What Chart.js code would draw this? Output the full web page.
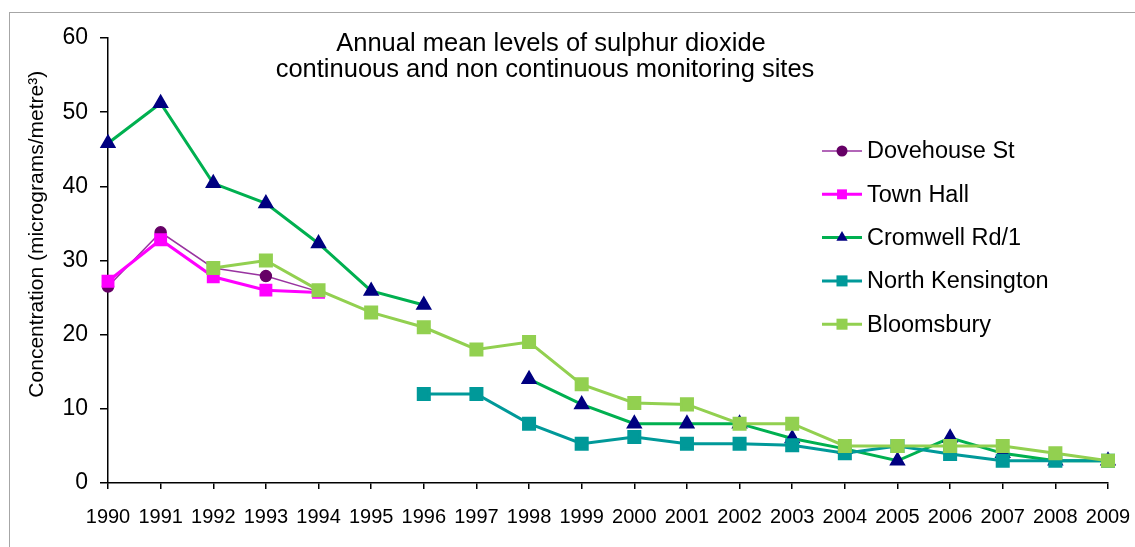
<!DOCTYPE html>
<html>
<head>
<meta charset="utf-8">
<script src="https://cdn.jsdelivr.net/npm/chart.js@4.4.1/dist/chart.umd.min.js"></script>
<style>
  body { margin: 0; background: #fff; }
  #wrap { position: relative; width: 1135px; height: 547px; overflow: hidden; }
  #frame { position: absolute; left: 9px; top: 12px; width: 1200px; height: 600px;
           border-left: 1px solid #a6a6a6; border-top: 1px solid #a6a6a6; pointer-events: none; }
</style>
</head>
<body>
<div id="wrap">
  <canvas id="myChart" width="1135" height="547"></canvas>
  <div id="frame"></div>
</div>
<script>
const years = ["1990", "1991", "1992", "1993", "1994", "1995", "1996", "1997", "1998", "1999",
               "2000", "2001", "2002", "2003", "2004", "2005", "2006", "2007", "2008", "2009"];
const dovehouse = [26.5, 33.8, 29.0, 27.9, 25.8, null, null, null, null, null,
                   null, null, null, null, null, null, null, null, null, null];
const townHall = [27.2, 32.8, 27.8, 26.0, 25.7, null, null, null, null, null,
                  null, null, null, null, null, null, null, null, null, null];
const cromwell = [45.8, 51.2, 40.4, 37.7, 32.3, 25.9, 24.0, null, 14.0, 10.6,
                  8.0, 8.0, 8.0, 6.0, 4.6, 3.0, 6.1, 4.0, 3.0, 3.0];
const northKensington = [null, null, null, null, null, null, 12.0, 12.0, 8.0, 5.3,
                         6.2, 5.3, 5.3, 5.1, 4.0, 5.0, 3.9, 3.0, 3.0, 3.0];
const bloomsbury = [null, null, 29.0, 30.0, 26.0, 23.0, 21.0, 18.0, 19.0, 13.3,
                    10.8, 10.6, 8.0, 8.0, 5.0, 5.0, 5.0, 5.0, 4.0, 3.0];
const yTicks = [0, 10, 20, 30, 40, 50, 60];

const FONT = "'Liberation Sans', Arial, sans-serif";

function drawMarker(ctx, style, r, x, y, fill) {
    ctx.fillStyle = fill;
    ctx.beginPath();
    if (style === 'circle') {
        ctx.arc(x, y, r, 0, Math.PI * 2);
    } else if (style === 'rect') {
        const s = r * Math.SQRT1_2;
        ctx.rect(x - s, y - s, 2 * s, 2 * s);
    } else if (style === 'triangle') {
        const w = r * Math.sqrt(3) / 2;
        ctx.moveTo(x, y - r);
        ctx.lineTo(x + w, y + r / 2);
        ctx.lineTo(x - w, y + r / 2);
        ctx.closePath();
    }
    ctx.fill();
}

// title and legend sit inside the plot area, so draw them by hand
const overlay = {
    id: 'overlay',
    afterDraw(chart) {
        const ctx = chart.ctx;
        ctx.save();
        ctx.fillStyle = '#000';
        ctx.font = `25.5px ${FONT}`;
        ctx.textAlign = 'center';
        ctx.textBaseline = 'alphabetic';
        ctx.fillText('Annual mean levels of sulphur dioxide', 551, 51);
        ctx.fillText('continuous and non continuous monitoring sites', 545, 77);

        chart.data.datasets.forEach((ds, i) => {
            const y = 151 + i * 43.3;
            ctx.strokeStyle = ds.borderColor;
            ctx.lineWidth = ds.borderWidth;
            ctx.beginPath();
            ctx.moveTo(822, y);
            ctx.lineTo(862, y);
            ctx.stroke();
            drawMarker(ctx, ds.pointStyle, ds.pointRadius, 842, y, ds.pointBackgroundColor);
            ctx.fillStyle = '#000';
            ctx.font = `23.5px ${FONT}`;
            ctx.textAlign = 'left';
            ctx.textBaseline = 'middle';
            ctx.fillText(ds.label, 867, y + 1);
        });
        ctx.restore();
    }
};

new Chart("myChart", {
    type: "line",
    data: {
        labels: years,
        datasets: [
            { label: "Dovehouse St", data: dovehouse, borderColor: "#9933A0", borderWidth: 1.5,
              pointStyle: "circle", pointRadius: 5.5, pointBackgroundColor: "#660066",
              pointBorderColor: "#660066", order: 4 },
            { label: "Town Hall", data: townHall, borderColor: "#FF00FF", borderWidth: 3,
              pointStyle: "rect", pointRadius: 7, pointBackgroundColor: "#FF00FF",
              pointBorderColor: "#FF00FF", order: 3 },
            { label: "Cromwell Rd/1", data: cromwell, borderColor: "#00B050", borderWidth: 3,
              pointStyle: "triangle", pointRadius: 6.5, pointBackgroundColor: "#000080",
              pointBorderColor: "#000080", order: 2 },
            { label: "North Kensington", data: northKensington, borderColor: "#009999", borderWidth: 3,
              pointStyle: "rect", pointRadius: 7.8, pointBackgroundColor: "#009999",
              pointBorderColor: "#009999", order: 1 },
            { label: "Bloomsbury", data: bloomsbury, borderColor: "#92D050", borderWidth: 3,
              pointStyle: "rect", pointRadius: 7.8, pointBackgroundColor: "#92D050",
              pointBorderColor: "#92D050", order: 0 },
        ],
    },
    options: {
        responsive: false,
        animation: false,
        spanGaps: false,
        layout: { padding: { top: 38, right: 0, bottom: 0, left: 0 } },
        plugins: {
            legend: { display: false },
            title: { display: false },
            tooltip: { enabled: false },
        },
        elements: {
            line: { tension: 0 },
            point: { borderWidth: 0 },
        },
        scales: {
            x: {
                offset: false,
                afterFit: s => { s.height = 64; s.paddingLeft = 0; s.paddingRight = 27; },
                grid: { drawOnChartArea: false, offset: false, tickLength: 6, color: "#000", lineWidth: 1.5 },
                border: { color: "#000", width: 1.5 },
                ticks: { color: "#000", font: { family: FONT, size: 20 }, padding: 16, maxRotation: 0, autoSkip: false },
            },
            y: {
                min: 0,
                max: 60,
                afterFit: s => { s.width = 108; },
                afterBuildTicks: s => { s.ticks = yTicks.map(v => ({ value: v })); },
                grid: { drawOnChartArea: false, tickLength: 8, color: "#000", lineWidth: 1.5 },
                border: { color: "#000", width: 1.5 },
                ticks: { color: "#000", font: { family: FONT, size: 23 }, padding: 12 },
                title: {
                    display: true,
                    text: "\u2002\u2002\u2002\u2002\u2002Concentration (micrograms/metre\u00B3)",
                    color: "#000",
                    font: { family: FONT, size: 21 },
                    padding: { top: 25, bottom: 0 },
                },
            },
        },
    },
    plugins: [overlay],
});
</script>
</body>
</html>
